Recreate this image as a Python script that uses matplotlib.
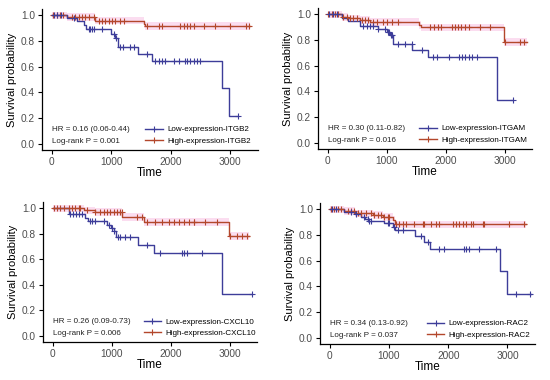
import numpy as np
import matplotlib
matplotlib.use("Agg")
import matplotlib.pyplot as plt

plt.rcParams['font.family'] = ['Liberation Sans', 'DejaVu Sans']

LOW_COLOR = '#3D3D99'
HIGH_COLOR = '#B3472B'
BAND_COLOR = '#FBDDF0'

genes = ['ITGB2', 'ITGAM', 'CXCL10', 'RAC2']
hr_texts = ['HR = 0.16 (0.06-0.44)', 'HR = 0.30 (0.11-0.82)',
            'HR = 0.26 (0.09-0.73)', 'HR = 0.34 (0.13-0.92)']
p_texts = ['Log-rank P = 0.001', 'Log-rank P = 0.016',
           'Log-rank P = 0.006', 'Log-rank P = 0.037']

# ITGB2
itgb2_low_t = [0, 250, 420, 533, 577, 993, 1066, 1105, 1442, 1683, 2862, 2970]
itgb2_low_s = [1.0, 0.98, 0.96, 0.925, 0.895, 0.858, 0.826, 0.753, 0.70, 0.645, 0.43, 0.215]
itgb2_low_end = 3124
itgb2_low_cens = [30, 85, 150, 380, 617, 645, 673, 701, 842, 1038, 1083, 1138, 1195, 1307,
                  1386, 1600, 1740, 1796, 1852, 1908, 2048, 2133, 2245, 2273, 2329, 2385,
                  2441, 2497, 3124]
itgb2_high_t = [0, 250, 730, 1545, 1565]
itgb2_high_s = [1.0, 0.985, 0.96, 0.935, 0.92]
itgb2_high_end = 3338
itgb2_high_cens = [27, 84, 140, 196, 337, 393, 449, 505, 561, 617, 701, 785, 842, 897, 954,
                   1010, 1066, 1150, 1206, 1600, 1795, 1852, 2160, 2217, 2273, 2329, 2385,
                   2553, 2750, 3002, 3255, 3311]

# ITGAM
itgam_low_t = [0, 237, 350, 549, 853, 1001, 1058, 1115, 1434, 1709, 2870]
itgam_low_s = [1.0, 0.969, 0.948, 0.911, 0.885, 0.864, 0.843, 0.77, 0.722, 0.665, 0.33]
itgam_low_end = 3136
itgam_low_cens = [30, 90, 150, 605, 662, 719, 775, 860, 973, 1019, 1041, 1075, 1098, 1200,
                  1313, 1427, 1597, 1794, 1851, 2049, 2230, 2275, 2332, 2389, 2445, 2531, 3136]
itgam_high_t = [0, 237, 350, 549, 719, 1551, 1585, 2983]
itgam_high_s = [1.0, 0.981, 0.969, 0.955, 0.94, 0.917, 0.899, 0.787]
itgam_high_end = 3380
itgam_high_cens = [11, 67, 124, 181, 265, 322, 379, 435, 492, 577, 634, 690, 775, 832, 945,
                   1001, 1087, 1200, 1738, 1810, 1868, 1925, 2106, 2163, 2209, 2265, 2321,
                   2389, 2587, 2757, 3012, 3267, 3323]

# CXCL10
cxcl10_low_t = [0, 271, 554, 600, 921, 989, 1034, 1080, 1441, 1712, 2870]
cxcl10_low_s = [1.0, 0.952, 0.924, 0.898, 0.872, 0.846, 0.82, 0.775, 0.715, 0.65, 0.326]
cxcl10_low_end = 3380
cxcl10_low_cens = [300, 350, 400, 450, 497, 625, 667, 724, 864, 950, 1006, 1045, 1110, 1147,
                   1232, 1317, 1600, 1825, 2192, 2232, 2277, 2531, 3380]
cxcl10_high_t = [0, 526, 724, 1180, 1543, 2983]
cxcl10_high_s = [1.0, 0.984, 0.971, 0.933, 0.893, 0.781]
cxcl10_high_end = 3322
cxcl10_high_cens = [17, 74, 131, 187, 271, 328, 385, 441, 469, 582, 724, 797, 864, 921, 978,
                    1034, 1091, 1147, 1175, 1430, 1515, 1600, 1741, 1854, 1967, 2052, 2137,
                    2222, 2306, 2391, 2402, 2588, 2786, 3012, 3125, 3210, 3295]

# RAC2
rac2_low_t = [0, 248, 430, 529, 600, 650, 923, 1064, 1103, 1437, 1598, 1700, 2882, 2994]
rac2_low_s = [1.0, 0.98, 0.961, 0.943, 0.925, 0.91, 0.891, 0.865, 0.84, 0.79, 0.745, 0.69,
              0.518, 0.342]
rac2_low_end = 3405
rac2_low_cens = [40, 100, 360, 444, 585, 642, 670, 698, 979, 1007, 1080, 1145, 1233, 1542,
                 1650, 1851, 1936, 2273, 2302, 2358, 2527, 2808, 3152, 3388]
rac2_high_t = [0, 248, 430, 726, 900, 1064, 1100]
rac2_high_s = [1.0, 0.987, 0.969, 0.956, 0.943, 0.917, 0.883]
rac2_high_end = 3315
rac2_high_cens = [23, 79, 135, 191, 304, 360, 417, 473, 529, 613, 698, 754, 810, 867, 923,
                  979, 1007, 1120, 1176, 1233, 1289, 1430, 1570, 1598, 1711, 1795, 1851, 2077,
                  2133, 2189, 2246, 2302, 2386, 2415, 2583, 2611, 3033, 3287]

panels = [
    (itgb2_low_t, itgb2_low_s, itgb2_low_end, itgb2_low_cens,
     itgb2_high_t, itgb2_high_s, itgb2_high_end, itgb2_high_cens),
    (itgam_low_t, itgam_low_s, itgam_low_end, itgam_low_cens,
     itgam_high_t, itgam_high_s, itgam_high_end, itgam_high_cens),
    (cxcl10_low_t, cxcl10_low_s, cxcl10_low_end, cxcl10_low_cens,
     cxcl10_high_t, cxcl10_high_s, cxcl10_high_end, cxcl10_high_cens),
    (rac2_low_t, rac2_low_s, rac2_low_end, rac2_low_cens,
     rac2_high_t, rac2_high_s, rac2_high_end, rac2_high_cens),
]

# axes boxes in pixels: left, top, right, bottom
boxes = [(42, 9, 258, 150), (318, 8, 532, 149), (43, 202, 257, 342), (320, 203, 535, 344)]
legend_x = [0.478, 0.473, 0.47, 0.496]

W, H = 550, 380
fig = plt.figure(figsize=(W / 100, H / 100), dpi=100)


def km_curve(ax, t, s, end, cens, color, band=False):
    tt = list(t) + [end]
    ss = list(s) + [s[-1]]
    if band:
        # faint pink haze seen around the high-expression curves
        ax.fill_between(tt, np.array(ss) - 0.03, np.array(ss) + 0.03, step='post',
                        color=BAND_COLOR, lw=0, zorder=0.5)
    ax.step(tt, ss, where='post', color=color, lw=1.0, zorder=2)
    idx = np.searchsorted(np.array(t), np.array(cens), side='right') - 1
    ax.plot(cens, np.array(s)[idx], ls='none', marker='+', color=color, ms=5, mew=0.8,
            zorder=3)


for i, (box, data) in enumerate(zip(boxes, panels)):
    l, t_, r, b = box
    ax = fig.add_axes([l / W, 1 - b / H, (r - l) / W, (b - t_) / H])
    lt, ls, le, lc, ht, hs, he, hc = data
    km_curve(ax, ht, hs, he, hc, HIGH_COLOR, band=True)
    km_curve(ax, lt, ls, le, lc, LOW_COLOR)

    ax.set_xlim(-165, 3465)
    ax.set_ylim(-0.05, 1.05)
    ax.set_xticks([0, 1000, 2000, 3000])
    ax.set_yticks([0, 0.2, 0.4, 0.6, 0.8, 1.0])
    ax.set_yticklabels(['0.0', '0.2', '0.4', '0.6', '0.8', '1.0'])
    for side in ['top', 'right']:
        ax.spines[side].set_visible(False)
    for side in ['left', 'bottom']:
        ax.spines[side].set_linewidth(0.9)
    ax.tick_params(labelsize=7.3, labelcolor='#4D4D4D', length=3, width=0.8, pad=2)
    ax.set_xlabel('Time', fontsize=8.5, labelpad=0)
    ax.set_ylabel('Survival probability', fontsize=8, labelpad=3)

    ax.text(0, 0.11, hr_texts[i], fontsize=5.8, va='center', ha='left', color='#222222')
    ax.text(0, 0.02, p_texts[i], fontsize=5.8, va='center', ha='left', color='#222222')

    h1 = plt.Line2D([], [], color=LOW_COLOR, lw=1.0, marker='+', ms=5, mew=0.8)
    h2 = plt.Line2D([], [], color=HIGH_COLOR, lw=1.0, marker='+', ms=5, mew=0.8)
    ax.legend([h1, h2], [f'Low-expression-{genes[i]}', f'High-expression-{genes[i]}'],
              loc='center left', bbox_to_anchor=(legend_x[i], 0.065),
              bbox_transform=ax.get_yaxis_transform(),
              frameon=False, fontsize=5.8, handlelength=2.2, handletextpad=0.5,
              labelspacing=0.45, borderpad=0, borderaxespad=0, numpoints=1)

fig.savefig('out.png', dpi=100)
